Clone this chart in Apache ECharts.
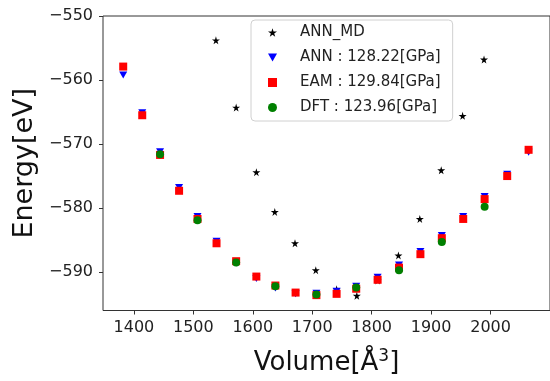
<!DOCTYPE html>
<html lang="en">
<head>
  <meta charset="UTF-8">
  <title>E-V curve</title>
  <script src="https://cdn.jsdelivr.net/npm/echarts@6/dist/echarts.min.js"></script>
  <style>
    html, body { margin: 0; padding: 0; background: #fff; }
  </style>
</head>
<body>
  <div id="main" style="width: 550px;height:381px;"></div>
  <script>
    // volumes for ANN / EAM points
    var volumes = [1382, 1414, 1444, 1476, 1507, 1539, 1572, 1606, 1638, 1672, 1707,
                   1741, 1774, 1810, 1846, 1882, 1918, 1954, 1990, 2028, 2064];
    var annEnergy = [-559.2, -565.1, -571.2, -576.8, -581.3, -585.2, -588.6, -591.0, -592.5, -593.4, -593.3,
                     -593.0, -592.2, -590.8, -588.9, -586.8, -584.3, -581.3, -578.2, -574.7, -571.3];
    var eamEnergy = [-557.9, -565.5, -571.7, -577.3, -581.7, -585.5, -588.3, -590.7, -592.1, -593.2, -593.6,
                     -593.4, -592.6, -591.2, -589.3, -587.2, -584.7, -581.7, -578.6, -575.0, -570.9];
    // DFT points
    var dftVolumes = [1444, 1507, 1572, 1638, 1707, 1774, 1846, 1918, 1990];
    var dftEnergy = [-571.6, -581.9, -588.5, -592.2, -593.5, -592.4, -589.7, -585.3, -579.8];
    // ANN_MD points
    var mdVolumes = [1538, 1572, 1606, 1637, 1671, 1706, 1741, 1775, 1810, 1845, 1881, 1917, 1953, 1989];
    var mdEnergy = [-553.8, -564.3, -574.4, -580.6, -585.5, -589.7, -592.7, -593.7, -591.3, -587.4, -581.7, -574.1, -565.6, -556.8];

    var legendNames = ['ANN_MD', 'ANN : 128.22[GPa]', 'EAM : 129.84[GPa]', 'DFT : 123.96[GPa]'];
    var xTicks = [1400, 1500, 1600, 1700, 1800, 1900, 2000];
    var yTicks = [-590, -580, -570, -560, -550];

    function pairs(xs, ys) {
      return xs.map(function (x, i) { return [x, ys[i]]; });
    }

    var starPath = 'path://M50,0 L61,35 L98,35 L68,57 L79,91 L50,70 L21,91 L32,57 L2,35 L39,35 Z';
    var triDown = 'path://M0,0 L10,0 L5,9 Z';
    var square = 'path://M0,0 L10,0 L10,10 L0,10 Z';

    var myChart = echarts.init(document.getElementById('main'));

    var option = {
      animation: false,
      grid: {
        left: 103, top: 16, right: -9, bottom: 68,
        show: true, borderColor: '#333', borderWidth: 1
      },
      legend: {
        orient: 'vertical',
        left: 251, top: 20,
        padding: [4, 12, 5, 17],
        itemWidth: 9, itemHeight: 9,
        itemGap: 8,
        backgroundColor: 'rgba(255,255,255,0.8)',
        borderColor: '#d0d0d0', borderWidth: 1, borderRadius: 4,
        textStyle: {
          fontFamily: 'DejaVu Sans', fontSize: 15, color: '#222', lineHeight: 17,
          padding: [0, 0, 0, 18]
        },
        data: [
          { name: legendNames[0], icon: starPath },
          { name: legendNames[1], icon: triDown },
          { name: legendNames[2], icon: square },
          { name: legendNames[3], icon: 'circle' }
        ]
      },
      xAxis: {
        type: 'value',
        min: 1348, max: 2100,
        name: 'Volume[Å{sup|3}]',
        nameLocation: 'middle',
        nameGap: 38,
        nameTextStyle: {
          fontFamily: 'DejaVu Sans', fontSize: 26, color: '#111',
          rich: { sup: { fontFamily: 'DejaVu Sans', fontSize: 17, color: '#111', verticalAlign: 'bottom', padding: [0, 0, 12, 0] } }
        },
        axisLine: { show: false },
        axisTick: { show: true, length: 4, customValues: xTicks, lineStyle: { color: '#333' } },
        axisLabel: {
          customValues: xTicks, margin: 9, fontFamily: 'DejaVu Sans', fontSize: 16, color: '#222',
          formatter: function (v) { return String(v); }
        },
        splitLine: { show: false }
      },
      yAxis: {
        type: 'value',
        min: -596, max: -550,
        name: 'Energy[eV]',
        nameLocation: 'middle',
        nameGap: 64,
        nameTextStyle: { fontFamily: 'DejaVu Sans', fontSize: 27, color: '#111' },
        axisLine: { show: false },
        axisTick: { show: true, length: 4, customValues: yTicks, lineStyle: { color: '#333' } },
        axisLabel: {
          customValues: yTicks, margin: 10, fontFamily: 'DejaVu Sans', fontSize: 16, color: '#222',
          formatter: function (v) { return '\u2212' + Math.abs(v); }
        },
        splitLine: { show: false }
      },
      series: [
        {
          name: legendNames[0], type: 'scatter',
          symbol: starPath, symbolSize: 8,
          itemStyle: { color: '#000', opacity: 1 },
          data: pairs(mdVolumes, mdEnergy)
        },
        {
          name: legendNames[1], type: 'scatter',
          symbol: triDown, symbolSize: [8, 7],
          itemStyle: { color: '#0000ff', opacity: 1 },
          data: pairs(volumes, annEnergy)
        },
        {
          name: legendNames[2], type: 'scatter',
          symbol: square, symbolSize: 8,
          itemStyle: { color: '#ff0000', opacity: 1 },
          data: pairs(volumes, eamEnergy)
        },
        {
          name: legendNames[3], type: 'scatter',
          symbol: 'circle', symbolSize: 8,
          itemStyle: { color: '#008000', opacity: 1 },
          data: pairs(dftVolumes, dftEnergy)
        }
      ]
    };

    myChart.setOption(option);
  </script>
</body>
</html>
